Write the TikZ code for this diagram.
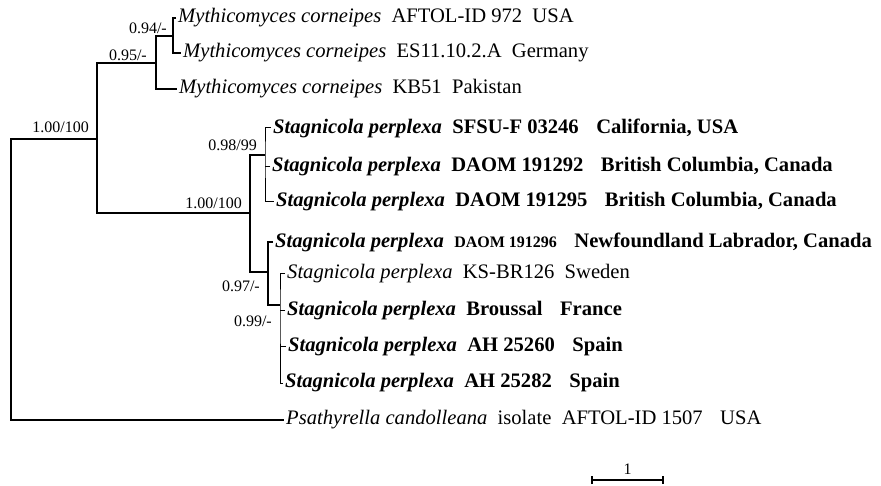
\documentclass[tikz,border=0pt]{standalone}
\usepackage{fontspec}
\setmainfont{Liberation Serif}
\usetikzlibrary{arrows.meta}
\newcommand{\gap}{\hspace{0.5em}}
\newcommand{\ggap}{\hspace{0.85em}}
\begin{document}
\begin{tikzpicture}[x=1pt, y=-1pt,
    branch/.style={line width=1.6pt},
    twig/.style={line width=1pt},
    leaf/.style={anchor=west, inner sep=2pt, font=\fontsize{20.6}{24}\selectfont},
    support/.style={anchor=east, inner sep=2pt, font=\fontsize{16}{19}\selectfont}]
    \useasboundingbox (0,0) rectangle (881,486);
    % nodi interni
    \coordinate (root) at (11,139);
    \coordinate (n1) at (97,139);
    \coordinate (n2) at (156,63);
    \coordinate (n3) at (173,36);
    \coordinate (n4) at (250,213);
    \coordinate (n5) at (265,155);
    \coordinate (n6) at (268,272);
    \coordinate (n7) at (280,305);
    % foglie
    \node[leaf] (l1) at (176,18) {\textit{Mythicomyces corneipes}\gap AFTOL-ID 972\gap USA};
    \node[leaf] (l2) at (181,53) {\textit{Mythicomyces corneipes}\gap ES11.10.2.A\gap Germany};
    \node[leaf] (kb) at (177,89) {\textit{Mythicomyces corneipes}\gap KB51\gap Pakistan};
    \node[leaf] (s1) at (271,128) {\bfseries\textit{Stagnicola perplexa}\gap SFSU-F 03246\ggap California, USA};
    \node[leaf] (s2) at (270,167) {\bfseries\textit{Stagnicola perplexa}\gap DAOM 191292\ggap British Columbia, Canada};
    \node[leaf] (s3) at (274,202) {\bfseries\textit{Stagnicola perplexa}\gap DAOM 191295\ggap British Columbia, Canada};
    \node[leaf] (s4) at (273,242) {\bfseries\textit{Stagnicola perplexa}\gap{\fontsize{16}{19}\selectfont DAOM 191296}\ggap Newfoundland Labrador, Canada};
    \node[leaf] (s5) at (285,274) {\textit{Stagnicola perplexa}\gap KS-BR126\gap Sweden};
    \node[leaf] (s6) at (285,311) {\bfseries\textit{Stagnicola perplexa}\gap Broussal\ggap France};
    \node[leaf] (s7) at (286,347) {\bfseries\textit{Stagnicola perplexa}\gap AH 25260\ggap Spain};
    \node[leaf] (s8) at (283,383) {\bfseries\textit{Stagnicola perplexa}\gap AH 25282\ggap Spain};
    \node[leaf] (psa) at (284,420) {\textit{Psathyrella candolleana}\gap isolate\gap AFTOL-ID 1507\ggap USA};
    % rami
    \draw[branch] (n1) -- (root) |- (psa.west);
    \draw[branch] (n2) -| (n1) |- (n4);
    \draw[branch] (n3) -| (n2) |- (kb.west);
    \draw[branch] (l1.west) -| (n3) |- (l2.west);
    \draw[branch] (n5) -| (n4) |- (n6);
    \draw[twig] (s1.west) -| (n5) |- (s3.west);
    \draw[twig] (s2.west) -- (s2.west -| n5);
    \draw[branch] (s4.west) -| (n6) |- (n7);
    \draw[twig] (s5.west) -| (n7) |- (s8.west);
    \draw[twig] (s6.west) -- (s6.west -| n7);
    \draw[twig] (s7.west) -- (s7.west -| n7);
    % supporti
    \node[support] (b1) at (91,127) {1.00/100};
    \node[support] (b2) at (149,55) {0.95/-};
    \node[support] (b3) at (169,28) {0.94/-};
    \node[support] (b4) at (244,203) {1.00/100};
    \node[support] (b5) at (259,145) {0.98/99};
    \node[support] (b6) at (262,286) {0.97/-};
    \node[support] (b7) at (274,321) {0.99/-};
    % scala
    \coordinate (sbl) at (591,480);
    \coordinate (sbr) at (664,480);
    \draw[line width=1.6pt, {Bar[width=8pt]}-{Bar[width=8pt]}] (sbl) -- (sbr)
        node[midway, above=1pt, font=\fontsize{16}{19}\selectfont] (sbt) {1};
\end{tikzpicture}
\end{document}
